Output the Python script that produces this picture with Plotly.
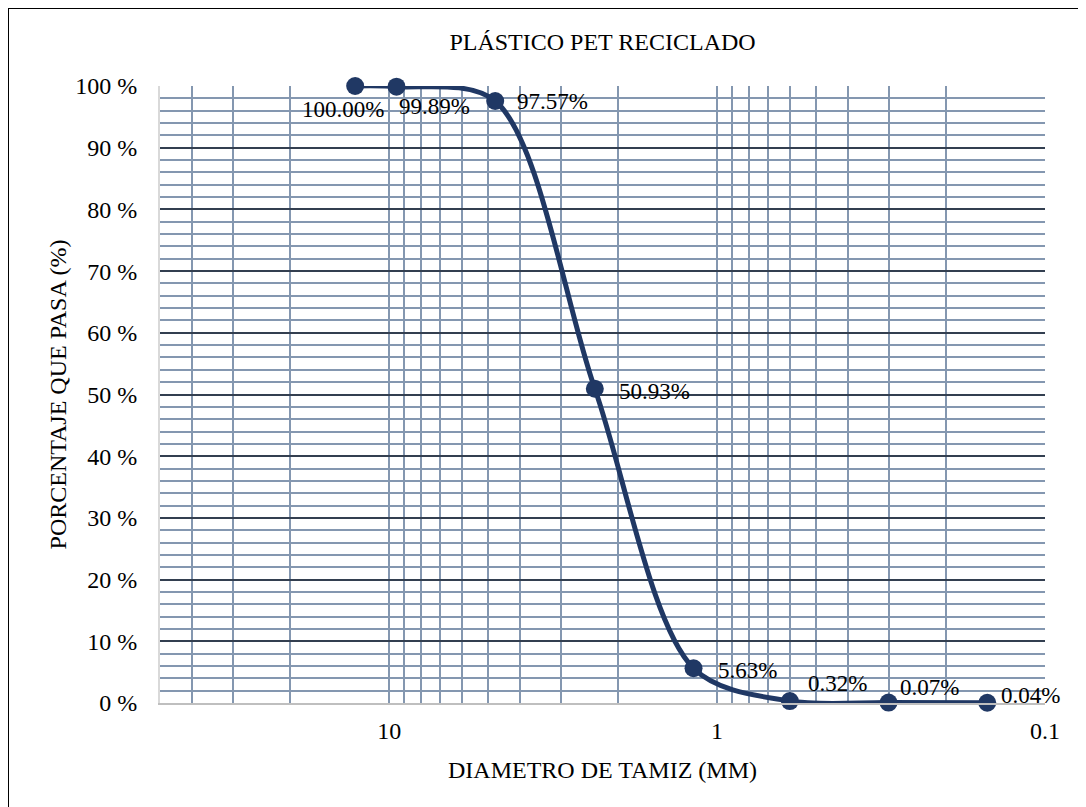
import plotly.graph_objects as go
import math

# Data
diametro_mm = [12.7, 9.5, 4.75, 2.36, 1.18, 0.60, 0.30, 0.15]
porcentaje_pasa = [100.00, 99.89, 97.57, 50.93, 5.63, 0.32, 0.07, 0.04]
etiquetas = ["100.00%", "99.89%", "97.57%", "50.93%", "5.63%", "0.32%", "0.07%", "0.04%"]

x_grid_vals = [40, 30, 20, 10, 9, 8, 7, 6, 5, 4, 3, 2, 1, 0.9, 0.8, 0.7, 0.6, 0.5, 0.4, 0.3, 0.2, 0.1]
x_tick_labels = {10: "10", 1: "1", 0.1: "0.1"}
y_ticks = list(range(0, 101, 10))
y_tick_text = [f"{v} %" for v in y_ticks]

# label placement (style)
lbl_anchor = ["center", "left", "left", "left", "left", "left", "left", "left"]
lbl_xshift = [-12, 0, 20, 22, 22, 16, 9, 12]
lbl_yshift = [-23, -20, -1, -3, -2, 18, 15, 7]

FONT = "Liberation Serif, Times New Roman, serif"
NAVY = "#203864"
GRID = "#8497B0"
MAJOR = "#333F50"
FS = 24

W, H = 1078, 799
L, T = 152, 78
PW, PH = 885, 617

fig = go.Figure()
fig.add_trace(go.Scatter(
    x=diametro_mm, y=porcentaje_pasa,
    mode="lines+markers",
    line=dict(color=NAVY, width=5, shape="spline", smoothing=0.9),
    marker=dict(color=NAVY, size=18),
    cliponaxis=False,
    showlegend=False,
))

for xv, yv, t, a, xs, ys in zip(diametro_mm, porcentaje_pasa, etiquetas, lbl_anchor, lbl_xshift, lbl_yshift):
    fig.add_annotation(x=math.log10(xv), y=yv, text=t, showarrow=False,
                       xanchor=a, yanchor="middle", xshift=xs, yshift=ys,
                       font=dict(family=FONT, size=23, color="#000000"))

fig.update_layout(
    width=W, height=H,
    margin=dict(l=L, r=W - L - PW, t=T, b=H - T - PH),
    paper_bgcolor="white", plot_bgcolor="white",
    title=dict(text="PLÁSTICO PET RECICLADO", x=0.5, xanchor="center",
               xref="paper", y=1 - 34 / H, yanchor="middle",
               font=dict(family=FONT, size=FS, color="#000000")),
    font=dict(family=FONT, size=FS, color="#000000"),
)

fig.update_xaxes(
    type="log", range=[math.log10(50), math.log10(0.1)],
    tickmode="array", tickvals=x_grid_vals,
    ticktext=[x_tick_labels.get(v, "") for v in x_grid_vals],
    showgrid=True, gridcolor=GRID, gridwidth=2,
    showline=True, linecolor="#BFBFBF", linewidth=2,
    ticks="", zeroline=False, ticklabelstandoff=5,
    tickfont=dict(family=FONT, size=FS, color="#000000"),
    title=dict(text="DIAMETRO DE TAMIZ (MM)", standoff=18,
               font=dict(family=FONT, size=FS, color="#000000")),
)
fig.update_yaxes(
    range=[0, 100], tickmode="array", tickvals=y_ticks, ticktext=y_tick_text,
    showgrid=True, gridcolor=MAJOR, gridwidth=2,
    minor=dict(dtick=2, showgrid=True, gridcolor=GRID, gridwidth=2),
    showline=True, linecolor="#D9D9D9", linewidth=2,
    ticks="", zeroline=False, ticklabelstandoff=16,
    tickfont=dict(family=FONT, size=FS, color="#000000"),
    title=dict(text="PORCENTAJE QUE PASA (%)", standoff=2,
               font=dict(family=FONT, size=FS, color="#000000")),
)

# outer chart border
fig.add_shape(type="rect", xref="paper", yref="paper",
              x0=-(L) / PW, x1=1.2, y0=-0.3, y1=1 + T / PH,
              line=dict(color="#000000", width=2), fillcolor="rgba(0,0,0,0)", layer="above")

fig.write_html("out.html")
